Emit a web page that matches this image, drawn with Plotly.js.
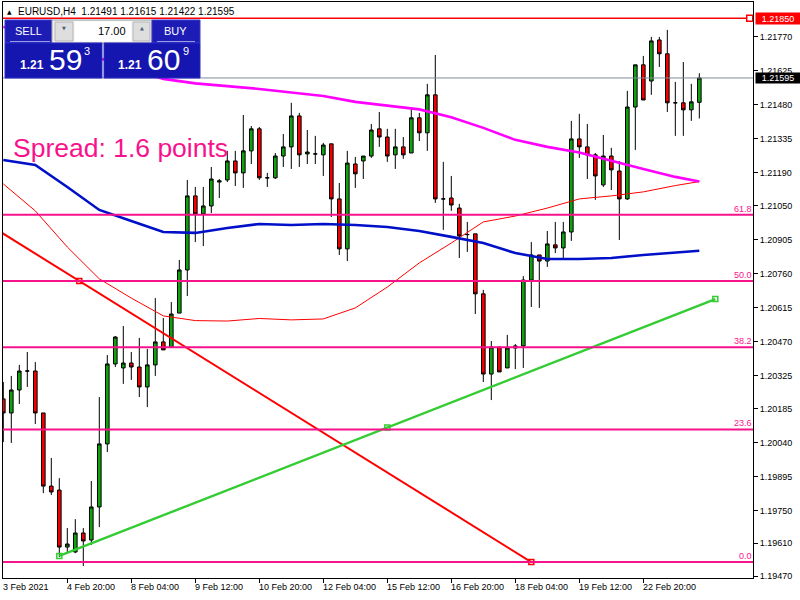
<!DOCTYPE html>
<html><head><meta charset="utf-8">
<script src="https://cdn.plot.ly/plotly-3.0.1.min.js"></script>
<style>html,body{margin:0;padding:0;background:#fff}#chart{width:800px;height:600px}</style>
</head><body><div id="chart"></div>
<script>
// ---------- DATA (EURUSD H4) ----------
const openP = [1.20226,1.20166,1.20264,1.20345,1.20345,1.20166,1.19854,1.19837,1.19594,1.19573,
1.19654,1.19624,1.19765,1.20034,1.20375,1.20358,1.20379,1.20362,1.20277,1.20371,
1.20469,1.20447,1.20592,1.20776,1.21092,1.21015,1.21049,1.21151,1.21160,1.21241,
1.21190,1.21284,1.21378,1.21169,1.21169,1.21262,1.21301,1.21433,1.21271,1.21271,
1.21267,1.21314,1.21079,1.20866,1.21228,1.21241,1.21262,1.21378,1.21343,1.21267,
1.21301,1.21275,1.21425,1.21361,1.21523,1.21079,1.21083,1.21040,1.20927,1.20930,
1.20674,1.20332,1.20447,1.20358,1.20443,1.20452,1.20733,1.20840,1.20814,1.20883,
1.20870,1.20938,1.21335,1.21301,1.21267,1.21139,1.21262,1.21198,1.21079,1.21471,
1.21651,1.21582,1.21757,1.21698,1.21489,1.21489,1.21459,1.21491];
const highP = [1.20298,1.20324,1.20371,1.20426,1.20383,1.20166,1.19974,1.19888,1.19675,1.19713,
1.19675,1.19876,1.20234,1.20413,1.20494,1.20537,1.20426,1.20486,1.20439,1.20656,
1.20571,1.20639,1.20819,1.21160,1.21130,1.21130,1.21215,1.21164,1.21284,1.21284,
1.21437,1.21390,1.21386,1.21190,1.21275,1.21356,1.21489,1.21446,1.21373,1.21348,
1.21318,1.21314,1.21147,1.21284,1.21258,1.21262,1.21399,1.21450,1.21378,1.21378,
1.21343,1.21467,1.21446,1.21570,1.21693,1.21237,1.21177,1.21058,1.20981,1.20930,
1.20691,1.20473,1.20447,1.20499,1.20460,1.20750,1.20895,1.20840,1.20942,1.20981,
1.20981,1.21412,1.21442,1.21399,1.21275,1.21352,1.21297,1.21241,1.21540,1.21651,
1.21689,1.21770,1.21770,1.21800,1.21578,1.21663,1.21570,1.21615];
const lowP = [1.20042,1.20038,1.20204,1.20277,1.20119,1.19824,1.19816,1.19551,1.19573,1.19568,
1.19513,1.19603,1.19679,1.19999,1.20362,1.20290,1.20307,1.20234,1.20191,1.20324,
1.20435,1.20447,1.20592,1.20665,1.20895,1.20878,1.21019,1.21083,1.21151,1.21134,
1.21126,1.21228,1.21160,1.21130,1.21164,1.21215,1.21207,1.21215,1.21228,1.21228,
1.21177,1.21002,1.20840,1.20814,1.21126,1.21164,1.21254,1.21301,1.21237,1.21207,
1.21250,1.21275,1.21326,1.21284,1.21062,1.20947,1.21028,1.20827,1.20853,1.20588,
1.20298,1.20221,1.20341,1.20358,1.20353,1.20358,1.20618,1.20614,1.20789,1.20848,
1.20819,1.20900,1.21254,1.21164,1.21075,1.21130,1.21117,1.20904,1.21075,1.21288,
1.21501,1.21523,1.21642,1.21450,1.21348,1.21348,1.21412,1.21422];
const closeP = [1.20166,1.20264,1.20345,1.20345,1.20166,1.19854,1.19829,1.19594,1.19607,1.19654,
1.19620,1.19765,1.20034,1.20375,1.20490,1.20379,1.20362,1.20277,1.20371,1.20469,
1.20435,1.20588,1.20776,1.21092,1.21015,1.21049,1.21164,1.21156,1.21241,1.21190,
1.21284,1.21378,1.21169,1.21169,1.21262,1.21301,1.21433,1.21267,1.21279,1.21271,
1.21309,1.21079,1.20866,1.21232,1.21186,1.21262,1.21373,1.21343,1.21262,1.21301,
1.21267,1.21425,1.21361,1.21523,1.21079,1.21079,1.21053,1.20921,1.20927,1.20674,
1.20332,1.20447,1.20341,1.20443,1.20452,1.20733,1.20840,1.20814,1.20887,1.20870,
1.20938,1.21335,1.21301,1.21267,1.21177,1.21262,1.21203,1.21079,1.21471,1.21651,
1.21501,1.21753,1.21698,1.21489,1.21489,1.21459,1.21493,1.21595];

// moving averages (sampled at bar indices)
const maBars   = [0,4,8,12,16,20,24,28,32,36,40,44,48,52,56,60,64,68,72,76,80,84,87];
const maBlue   = [1.21245,1.21224,1.21130,1.21032,1.20985,1.20938,1.20934,1.20955,1.20972,1.20968,1.20972,1.20968,1.20959,1.20942,1.20917,1.20891,1.20848,1.20823,1.20823,1.20827,1.20840,1.20851,1.20858];
const maRed    = [1.21143,1.21028,1.20874,1.20738,1.20656,1.20580,1.20560,1.20558,1.20569,1.20563,1.20567,1.20614,1.20703,1.20806,1.20891,1.20981,1.21006,1.21040,1.21079,1.21092,1.21109,1.21136,1.21153];
const magBars  = [0,20,24,28,32,36,40,44,48,52,56,60,64,68,72,76,80,84,87];
const maMag    = [1.21813,1.21591,1.21572,1.21561,1.21548,1.21533,1.21518,1.21493,1.21478,1.21461,1.21427,1.21382,1.21331,1.21301,1.21277,1.21241,1.21207,1.21173,1.21153];

// fibonacci retracement
const fibBars   = [-47, 66];
const fibHigh   = 1.21928, fibLow = 1.19530;
const fibRatios = [0, 0.236, 0.382, 0.5, 0.618];
const fibLabels = ["0.0","23.6","38.2","50.0","61.8"];

// green trend line
const trendBars   = [7, 89];
const trendPrices = [1.19556, 1.20652];

// horizontal lines
const hLinePrice = 1.21850;
const lastPrice  = 1.21595;

// axis ticks
const yTicks = [1.21770,1.21625,1.21480,1.21335,1.21190,1.21050,1.20905,1.20760,1.20615,1.20470,1.20325,1.20185,1.20040,1.19895,1.19750,1.19610,1.19470];
const yTickText = ["1.21770","1.21625","1.21480","1.21335","1.21190","1.21050","1.20905","1.20760","1.20615","1.20470","1.20325","1.20185","1.20040","1.19895","1.19750","1.19610","1.19470"];
const xTickBars = [0,8,16,24,32,40,48,56,64,72,80];
const xTickText = ["3 Feb 2021","4 Feb 20:00","8 Feb 04:00","9 Feb 12:00","10 Feb 20:00","12 Feb 04:00","15 Feb 12:00","16 Feb 20:00","18 Feb 04:00","19 Feb 12:00","22 Feb 20:00"];

// ---------- DRAWING ----------
const PINK = '#f7128c', GREEN_FILL = '#10a010', RED_FILL = '#f00000';
const L=3, R=753, T=2, B=578;
const px = x => (x-L)/(R-L);
const py = y => 1-(y-T)/(B-T);
const bars = openP.map((_, i) => i);

const traces = [];
traces.push({type:'scatter', mode:'lines', x:[-2, 96], y:[lastPrice,lastPrice], line:{color:'#7f8c99', width:1}, hoverinfo:'skip'});
traces.push({type:'candlestick', x:bars, open:openP, high:highP, low:lowP, close:closeP,
  increasing:{line:{color:'#000', width:1}, fillcolor:GREEN_FILL},
  decreasing:{line:{color:'#000', width:1}, fillcolor:RED_FILL},
  whiskerwidth:0, hoverinfo:'skip'});
traces.push({type:'scatter', mode:'lines', x:maBars, y:maRed, line:{color:'#ff0000', width:1}});
traces.push({type:'scatter', mode:'lines', x:maBars, y:maBlue, line:{color:'#0010c8', width:2.6}});
traces.push({type:'scatter', mode:'lines', x:magBars, y:maMag, line:{color:'#ff00ff', width:2.6}});
traces.push({type:'scatter', mode:'lines', x:fibBars, y:[fibHigh, fibLow], line:{color:'#ff0000', width:2}});
traces.push({type:'scatter', mode:'markers', x:[(fibBars[0]+fibBars[1])/2, fibBars[1]], y:[(fibHigh+fibLow)/2, fibLow],
  marker:{symbol:'square-open', size:5, color:'#ff0000', line:{width:1.5, color:'#ff0000'}}});
traces.push({type:'scatter', mode:'lines', x:trendBars, y:trendPrices, line:{color:'#33cc33', width:2.4}});
traces.push({type:'scatter', mode:'markers', x:[trendBars[0], (trendBars[0]+trendBars[1])/2, trendBars[1]],
  y:[trendPrices[0], (trendPrices[0]+trendPrices[1])/2, trendPrices[1]],
  marker:{symbol:'square-open', size:5, color:'#33cc33', line:{width:1.5, color:'#33cc33'}}});
traces.push({type:'scatter', mode:'lines', x:[-2, 96], y:[hLinePrice,hLinePrice], line:{color:'#ff0000', width:1.6}});
traces.push({type:'scatter', mode:'markers', x:[93.3], y:[hLinePrice],
  marker:{symbol:'square', size:6, color:'#fff', line:{width:1.5, color:'#ff0000'}}});

const shapes = [];
const annotations = [];
fibRatios.forEach((r, i) => {
  const lvl = fibLow + r*(fibHigh-fibLow);
  shapes.push({type:'line', xref:'paper', x0:0, x1:1, yref:'y', y0:lvl, y1:lvl, line:{color:PINK, width:2}, layer:'above'});
  annotations.push({xref:'paper', x:px(753), xanchor:'right', yref:'y', y:lvl, yanchor:'bottom', yshift:0,
    text:fibLabels[i], showarrow:false, font:{size:9, color:PINK}, borderpad:0});
});

// trade panel
const rect = (x0,y0,x1,y1,fill,line) => shapes.push({type:'rect', xref:'paper', yref:'paper', x0:px(x0), x1:px(x1), y0:py(y1), y1:py(y0), fillcolor:fill, line:{color:line||fill, width:1}, layer:'above'});
const seg = (x0,y0,x1,y1,color) => shapes.push({type:'line', xref:'paper', yref:'paper', x0:px(x0), x1:px(x1), y0:py(y0), y1:py(y1), line:{color:color, width:1}, layer:'above'});
rect(5,20,52,43,'#1d1db6','#3a3ad0');
rect(52,20,152,43,'#f2f2f2','#9a9a9a');
rect(75,22,131,41,'#ffffff','#ffffff');
rect(55,22,73,41,'#dedede','#b5b5b5');
rect(133,22,150,41,'#dedede','#b5b5b5');
rect(152,20,200,43,'#1d1db6','#3a3ad0');
rect(5,43,102,78,'#1515b0','#2a2ac4');
rect(104,43,200,78,'#1515b0','#2a2ac4');
seg(10,41.5,50,41.5,'#9a9ae0');
seg(157,41.5,195,41.5,'#9a9ae0');

const txt = (x,y,text,opts) => annotations.push(Object.assign({xref:'paper', yref:'paper', x:px(x), y:py(y), text:text, showarrow:false, borderpad:0, xanchor:'center', yanchor:'middle'}, opts||{}));
const F = 'Liberation Sans, Arial, sans-serif';
txt(28,31,'SELL',{font:{family:F, size:11, color:'#fff'}});
txt(175,31,'BUY',{font:{family:F, size:11, color:'#fff'}});
txt(127,31,'17.00',{xanchor:'right', font:{family:F, size:11, color:'#000'}});
txt(64,28,'▼',{font:{family:'DejaVu Sans', size:5, color:'#50607a'}});
txt(141.5,28,'▲',{font:{family:'DejaVu Sans', size:5, color:'#50607a'}});
txt(19,65,'1.21',{xanchor:'left', font:{family:F, size:12, color:'#fff', weight:'bold'}});
txt(65,59,'59',{font:{family:F, size:30, color:'#fff'}});
txt(87,51,'3',{font:{family:F, size:11, color:'#fff'}});
txt(117,65,'1.21',{xanchor:'left', font:{family:F, size:12, color:'#fff', weight:'bold'}});
txt(163,59,'60',{font:{family:F, size:30, color:'#fff'}});
txt(185.5,51,'9',{font:{family:F, size:11, color:'#fff'}});
// title
txt(9.5,11,'▲',{font:{family:'DejaVu Sans', size:6, color:'#000'}});
txt(17,11,'EURUSD,H4\u00a0\u00a0'+[openP[87],highP[87],lowP[87],closeP[87]].map(v=>v.toFixed(5)).join(' '),{xanchor:'left', font:{family:F, size:10, color:'#000'}});
// spread text
txt(12,148,'Spread: 1.6 points',{xanchor:'left', font:{family:F, size:26.5, color:PINK}});

// x date labels
xTickBars.forEach((b,i) => annotations.push({xref:'x', x:b, xanchor:'left', xshift:-1, yref:'paper', y:0, yanchor:'top', yshift:-3,
  text:xTickText[i], showarrow:false, borderpad:0, font:{family:F, size:9, color:'#000'}}));

// price boxes on axis
annotations.push({xref:'paper', x:1, xanchor:'left', xshift:2, yref:'y', y:hLinePrice, yanchor:'middle', text:hLinePrice.toFixed(5),
  showarrow:false, bgcolor:'#ff0000', width:44, height:11, borderpad:0, font:{family:F, size:9, color:'#fff'}});
annotations.push({xref:'paper', x:1, xanchor:'left', xshift:2, yref:'y', y:lastPrice, yanchor:'middle', text:lastPrice.toFixed(5),
  showarrow:false, bgcolor:'#000000', width:44, height:10, borderpad:0, font:{family:F, size:9, color:'#fff'}});

const layout = {
  width:800, height:600, margin:{l:3, r:47, t:2, b:22},
  paper_bgcolor:'#fff', plot_bgcolor:'#fff', showlegend:false, boxgap:0.35,
  font:{family:F, size:9, color:'#000'},
  xaxis:{range:[-0.0375, 93.71], showgrid:false, zeroline:false, showline:true, linecolor:'#000', linewidth:1, mirror:true,
    ticks:'outside', ticklen:4, tickcolor:'#000', tickvals:xTickBars.slice(1), showticklabels:false, rangeslider:{visible:false}, fixedrange:true},
  yaxis:{range:[1.19462, 1.21919], side:'right', showgrid:false, zeroline:false, showline:true, linecolor:'#000', linewidth:1, mirror:true,
    ticks:'outside', ticklen:4, tickcolor:'#000', tickvals:yTicks, ticktext:yTickText, tickfont:{family:F, size:9, color:'#000'}, fixedrange:true},
  shapes:shapes, annotations:annotations
};
Plotly.newPlot('chart', traces, layout, {displayModeBar:false, staticPlot:true});
</script>
</body></html>
